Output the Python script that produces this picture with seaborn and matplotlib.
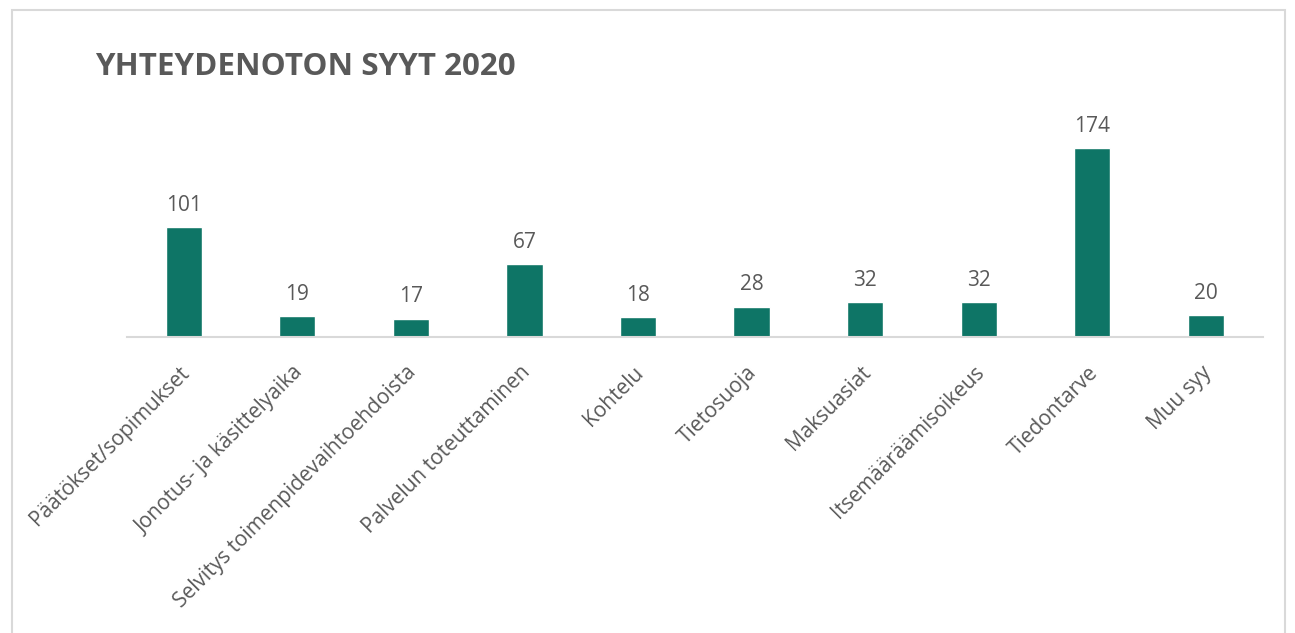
import matplotlib
matplotlib.use("Agg")
import matplotlib.pyplot as plt
import pandas as pd
import seaborn as sns
from matplotlib.patches import Rectangle
from matplotlib.transforms import ScaledTranslation

sns.set_theme(style="white")
plt.rcParams["font.family"] = ["Open Sans", "DejaVu Sans"]

TITLE = "YHTEYDENOTON SYYT 2020"
categories = [
    "Päätökset/sopimukset",
    "Jonotus- ja käsittelyaika",
    "Selvitys toimenpidevaihtoehdoista",
    "Palvelun toteuttaminen",
    "Kohtelu",
    "Tietosuoja",
    "Maksuasiat",
    "Itsemääräämisoikeus",
    "Tiedontarve",
    "Muu syy",
]
counts = [101, 19, 17, 67, 18, 28, 32, 32, 174, 20]

BAR = "#0e7566"
TEXT = "#595959"

df = pd.DataFrame({"syy": categories, "n": counts})

fig = plt.figure(figsize=(12.95, 6.33), dpi=100)
ax = fig.add_axes([0.098, 0.4676, 0.877, 0.3428])

sns.barplot(data=df, x="syy", y="n", color=BAR, width=0.32, saturation=1, ax=ax)

# value labels above bars
for i, v in enumerate(counts):
    ax.annotate(str(v), (i, v), xytext=(0, 12), textcoords="offset points",
                ha="center", va="baseline", fontsize=15, color=TEXT)

ax.set_xlim(-0.5, len(categories) - 0.5)
ax.set_ylim(0, 200)
ax.set_yticks([])
ax.set_xlabel("")
ax.set_ylabel("")
for s in ["top", "right", "left"]:
    ax.spines[s].set_visible(False)
ax.spines["bottom"].set_color("#d9d9d9")
ax.spines["bottom"].set_linewidth(1.5)
ax.tick_params(axis="x", length=0, pad=0)

offset = ScaledTranslation(-0.05, -0.25, fig.dpi_scale_trans)
for lab in ax.get_xticklabels():
    lab.set_rotation(45)
    lab.set_ha("right")
    lab.set_rotation_mode("anchor")
    lab.set_fontsize(15)
    lab.set_color(TEXT)
    lab.set_transform(lab.get_transform() + offset)

fig.text(95 / 1295, 1 - 67 / 633, TITLE, fontsize=22.6, fontweight="bold",
         color=TEXT, ha="left", va="center")

# light frame like the original chart area
fig.patches.append(Rectangle((12 / 1295, -0.01), 1273 / 1295, 1 - 10 / 633 + 0.01,
                             transform=fig.transFigure, fill=False,
                             edgecolor="#d9d9d9", linewidth=1.5))

fig.savefig("out.png", dpi=100)
